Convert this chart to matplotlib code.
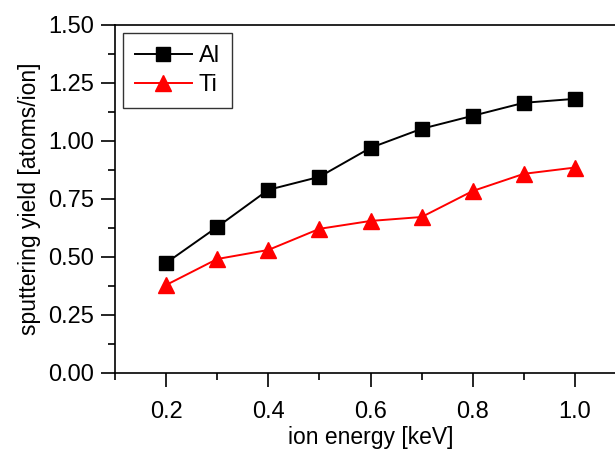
import numpy as np
import matplotlib.pyplot as plt
from matplotlib.ticker import MultipleLocator

plt.rcParams['font.family'] = ['Liberation Sans', 'DejaVu Sans']

energy = [0.2, 0.3, 0.4, 0.5, 0.6, 0.7, 0.8, 0.9, 1.0]
yield_al = [0.474, 0.629, 0.789, 0.845, 0.970, 1.052, 1.108, 1.164, 1.181]
yield_ti = [0.379, 0.491, 0.530, 0.621, 0.655, 0.672, 0.784, 0.858, 0.885]

fig = plt.figure(figsize=(6.15, 4.51), dpi=100)
ax = fig.add_axes([0.187, 0.173, 0.831, 0.772])

ax.plot(energy, yield_al, color='black', lw=1.4, marker='s', ms=9.5, label='Al')
ax.plot(energy, yield_ti, color='red', lw=1.4, marker='^', ms=11, label='Ti')

ax.set_xlim(0.1, 1.1)
ax.set_ylim(0.0, 1.5)
ax.xaxis.set_major_locator(MultipleLocator(0.2))
ax.xaxis.set_minor_locator(MultipleLocator(0.1))
ax.yaxis.set_major_locator(MultipleLocator(0.25))
ax.yaxis.set_minor_locator(MultipleLocator(0.125))
ax.set_xticks([0.2, 0.4, 0.6, 0.8, 1.0])
ax.set_xticklabels(['0.2', '0.4', '0.6', '0.8', '1.0'])
ax.set_yticklabels([f'{v:.2f}' for v in ax.get_yticks()])

ax.tick_params(which='both', direction='out', width=1.2, labelsize=17, pad=5)
ax.tick_params(axis='x', which='both', pad=10)
ax.tick_params(which='major', length=10)
ax.tick_params(which='minor', length=5)
for s in ax.spines.values():
    s.set_linewidth(1.2)

ax.set_xlabel('ion energy [keV]', fontsize=16.5, labelpad=2)
ax.set_ylabel('sputtering yield [atoms/ion]', fontsize=16.5, labelpad=5)

leg = ax.legend(loc='upper left', fontsize=17, frameon=True, fancybox=False,
                edgecolor='black', handlelength=2.4, borderaxespad=0.35,
                handletextpad=0.3, labelspacing=0.3, borderpad=0.5)
leg.get_frame().set_linewidth(1.0)

fig.savefig('out.png', dpi=100)
